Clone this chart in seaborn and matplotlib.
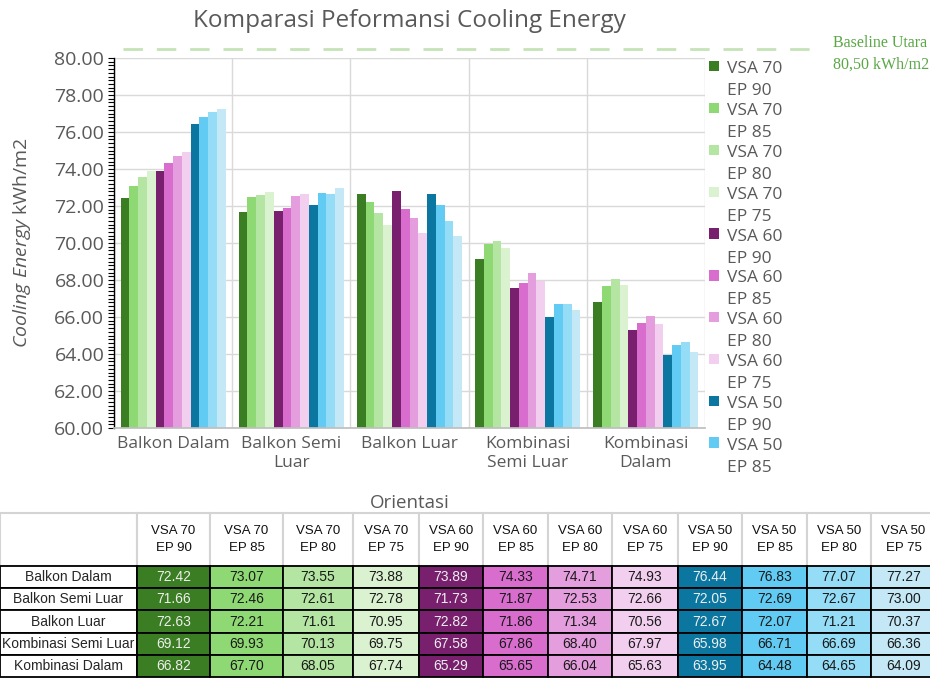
import numpy as np
import pandas as pd
import seaborn as sns
import matplotlib.pyplot as plt
from matplotlib.ticker import MultipleLocator, FormatStrFormatter
from matplotlib.transforms import blended_transform_factory, offset_copy
from matplotlib.colors import to_rgb
from matplotlib.legend_handler import HandlerPatch
from matplotlib.patches import Rectangle

categories = ["Balkon Dalam", "Balkon Semi Luar", "Balkon Luar",
              "Kombinasi Semi Luar", "Kombinasi Dalam"]
tick_labels = ["Balkon Dalam", "Balkon Semi\nLuar", "Balkon Luar",
               "Kombinasi\nSemi Luar", "Kombinasi\nDalam"]
series = ["VSA 70\nEP 90", "VSA 70\nEP 85", "VSA 70\nEP 80", "VSA 70\nEP 75",
          "VSA 60\nEP 90", "VSA 60\nEP 85", "VSA 60\nEP 80", "VSA 60\nEP 75",
          "VSA 50\nEP 90", "VSA 50\nEP 85", "VSA 50\nEP 80", "VSA 50\nEP 75"]

vsa70_ep90 = [72.42, 71.66, 72.63, 69.12, 66.82]
vsa70_ep85 = [73.07, 72.46, 72.21, 69.93, 67.70]
vsa70_ep80 = [73.55, 72.61, 71.61, 70.13, 68.05]
vsa70_ep75 = [73.88, 72.78, 70.95, 69.75, 67.74]
vsa60_ep90 = [73.89, 71.73, 72.82, 67.58, 65.29]
vsa60_ep85 = [74.33, 71.87, 71.86, 67.86, 65.65]
vsa60_ep80 = [74.71, 72.53, 71.34, 68.40, 66.04]
vsa60_ep75 = [74.93, 72.66, 70.56, 67.97, 65.63]
vsa50_ep90 = [76.44, 72.05, 72.67, 65.98, 63.95]
vsa50_ep85 = [76.83, 72.69, 72.07, 66.71, 64.48]
vsa50_ep80 = [77.07, 72.67, 71.21, 66.69, 64.65]
vsa50_ep75 = [77.27, 73.00, 70.37, 66.36, 64.09]

baseline = 80.50

all_values = [vsa70_ep90, vsa70_ep85, vsa70_ep80, vsa70_ep75,
              vsa60_ep90, vsa60_ep85, vsa60_ep80, vsa60_ep75,
              vsa50_ep90, vsa50_ep85, vsa50_ep80, vsa50_ep75]

colors = ["#3A7D22", "#8ED973", "#B4E5A2", "#DAF2D0",
          "#78206E", "#D86DCD", "#E59EDD", "#F2CFEE",
          "#0B76A0", "#61CBF3", "#95DCF7", "#C4E8F6"]

rows = []
for s, vals in zip(series, all_values):
    for cat, v in zip(categories, vals):
        rows.append({"orientasi": cat, "series": s, "energy": v})
df = pd.DataFrame(rows)


class TopSquare(HandlerPatch):
    # small square next to the first line of a two-line label
    def create_artists(self, legend, orig_handle, xdescent, ydescent,
                       width, height, fontsize, trans):
        s = 0.6 * fontsize
        p = Rectangle((-xdescent, 0.85 * fontsize), s, s,
                      facecolor=orig_handle.get_facecolor(), lw=0, transform=trans)
        return [p]


sns.set_theme(style="white")
plt.rcParams['font.family'] = ['Open Sans', 'DejaVu Sans']
plt.rcParams['mathtext.fontset'] = 'custom'
plt.rcParams['mathtext.rm'] = 'Open Sans'
plt.rcParams['mathtext.it'] = 'Open Sans:italic'

grey = "#595959"
fig = plt.figure(figsize=(9.3, 6.78), dpi=100)
ax = fig.add_axes([114 / 930, 1 - 428 / 678, 591 / 930, 370 / 678])

sns.barplot(data=df, x="orientasi", y="energy", hue="series", palette=colors,
            width=0.89, gap=0, saturation=1, linewidth=0, ax=ax)

ax.set_ylim(60, 80)
ax.set_xlim(-0.5, len(categories) - 0.5)
ax.yaxis.set_major_locator(MultipleLocator(2))
ax.yaxis.set_minor_locator(MultipleLocator(0.2))
ax.yaxis.set_major_formatter(FormatStrFormatter("%.2f"))
ax.set_xticks(range(len(categories)))
ax.set_xticklabels(tick_labels)
ax.set_xticks(np.arange(-0.5, len(categories)), minor=True)
ax.tick_params(axis="x", which="both", length=0, labelsize=12.5, labelcolor=grey, pad=6)
ax.tick_params(axis="y", which="both", direction="out", length=4, width=0.8,
               color="black", labelsize=14, labelcolor=grey, pad=3, left=True)
ax.grid(True, axis="y", which="major", color="#d9d9d9", lw=1)
ax.grid(True, axis="x", which="minor", color="#d9d9d9", lw=1)
ax.set_axisbelow(True)
for side in ["top", "right"]:
    ax.spines[side].set_visible(False)
ax.spines["left"].set_color("black")
ax.spines["left"].set_linewidth(1)
ax.spines["bottom"].set_color("#bfbfbf")

ax.set_ylabel(r"$\it{Cooling\ Energy}$ kWh/m2", fontsize=14, color=grey, labelpad=15)
ax.set_xlabel("Orientasi", fontsize=13.5, color=grey, labelpad=17)
ax.set_title("Komparasi Peformansi Cooling Energy", fontsize=17.5, color=grey, pad=22)

# baseline line (extends past the plot)
trans = blended_transform_factory(ax.transAxes, ax.transData)
ax.plot([0.015, 1.18], [baseline, baseline], transform=trans, clip_on=False,
        color="#c5e3b8", lw=2, ls=(0, (7, 5)))
ax.text(1.217, baseline, "Baseline Utara\n" + f"{baseline:.2f}".replace(".", ",") + " kWh/m2",
        transform=offset_copy(trans, fig=fig, y=-5, units="dots"),
        ha="left", va="center", fontsize=11.5, color="#5aa845",
        family=["Liberation Serif", "DejaVu Serif"], linespacing=1.5)

# legend (only first 10 entries visible, rest hidden by the table)
handles, labels = ax.get_legend_handles_labels()
leg = ax.legend(handles[:10], labels[:10], loc="upper left", bbox_to_anchor=(0.995, 1.01),
                frameon=False, fontsize=12.5, labelspacing=0.22, handlelength=0.65,
                handleheight=0.75, handletextpad=0.4, borderaxespad=0, labelcolor=grey,
                handler_map={Rectangle: TopSquare()})
for t in leg.get_texts():
    t.set_linespacing(1.5)

# data table below the chart
col_widths = [137, 73, 73, 70, 66, 64, 65, 64, 66, 64, 65, 64, 65]
tax = fig.add_axes([0, 1 / 678, sum(col_widths) / 930, 164 / 678])
tax.axis("off")

cell_text = [[""] + series]
cell_colors = [["white"] * (len(series) + 1)]
for i, cat in enumerate(categories):
    cell_text.append([cat] + [f"{vals[i]:.2f}" for vals in all_values])
    cell_colors.append(["white"] + colors)

tbl = tax.table(cellText=cell_text, cellColours=cell_colors, cellLoc="center",
                bbox=[0, 0, 1, 1])
tbl.auto_set_font_size(False)
narrow = ["Liberation Sans Narrow", "Liberation Sans", "DejaVu Sans"]
for (r, c), cell in tbl.get_celld().items():
    cell.set_width(col_widths[c])
    cell.set_height(53 if r == 0 else 22.2)
    txt = cell.get_text()
    txt.set_fontfamily(narrow)
    txt.set_fontsize(9.5)
    if r == 0:
        cell.set_edgecolor("#d4d4d4")
        cell.set_linewidth(1.5)
        txt.set_color("#111111")
        txt.set_linespacing(1.6)
    else:
        cell.set_edgecolor("black")
        cell.set_linewidth(1.3)
        txt.set_fontsize(10)
        if c == 0:
            txt.set_color("#262626")
        else:
            rgb = to_rgb(colors[c - 1])
            lum = 0.299 * rgb[0] + 0.587 * rgb[1] + 0.114 * rgb[2]
            txt.set_color("#eeeeee" if lum < 0.45 else "#1a1a1a")

fig.savefig("out.png", dpi=100)
